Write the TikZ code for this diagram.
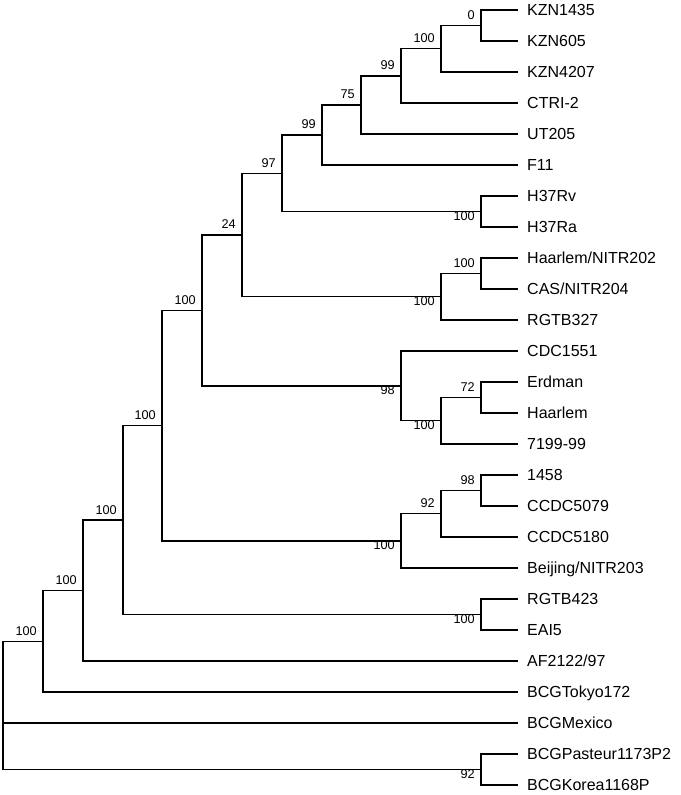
\documentclass[tikz,border=0pt]{standalone}
\usepackage{fontspec}
\setmainfont{Liberation Sans}
\usepackage{tikz}

\begin{document}
\begin{tikzpicture}[
      x=1pt, y=-1pt,
      branch/.style={line width=1.3pt, line cap=rect},
      leaf/.style={anchor=west, inner xsep=10pt, inner ysep=0pt, text height=11.5pt, text depth=0pt, font=\fontsize{16}{19}\selectfont},
      bootup/.style={anchor=east, inner sep=0pt, xshift=-6pt, yshift=10.5pt, text height=9pt, text depth=0pt, font=\fontsize{12.7}{15}\selectfont},
      bootdown/.style={bootup, yshift=-15pt}
    ]
    \useasboundingbox (0,0) rectangle (680,795);
    % Draw the taxa.
    \node[leaf] (t1) at (517,10) {KZN1435};
    \node[leaf] (t2) at (517,41) {KZN605};
    \node[leaf] (t3) at (517,72) {KZN4207};
    \node[leaf] (t4) at (517,103) {CTRI-2};
    \node[leaf] (t5) at (517,134) {UT205};
    \node[leaf] (t6) at (517,165) {F11};
    \node[leaf] (t7) at (517,196) {H37Rv};
    \node[leaf] (t8) at (517,227) {H37Ra};
    \node[leaf] (t9) at (517,258) {Haarlem/NITR202};
    \node[leaf] (t10) at (517,289) {CAS/NITR204};
    \node[leaf] (t11) at (517,320) {RGTB327};
    \node[leaf] (t12) at (517,351) {CDC1551};
    \node[leaf] (t13) at (517,382) {Erdman};
    \node[leaf] (t14) at (517,413) {Haarlem};
    \node[leaf] (t15) at (517,444) {7199-99};
    \node[leaf] (t16) at (517,475) {1458};
    \node[leaf] (t17) at (517,506) {CCDC5079};
    \node[leaf] (t18) at (517,537) {CCDC5180};
    \node[leaf] (t19) at (517,568) {Beijing/NITR203};
    \node[leaf] (t20) at (517,599) {RGTB423};
    \node[leaf] (t21) at (517,630) {EAI5};
    \node[leaf] (t22) at (517,661) {AF2122/97};
    \node[leaf] (t23) at (517,692) {BCGTokyo172};
    \node[leaf] (t24) at (517,723) {BCGMexico};
    \node[leaf] (t25) at (517,754) {BCGPasteur1173P2};
    \node[leaf] (t26) at (517,785) {BCGKorea1168P};
    % Draw the inner nodes.
    \coordinate (kzn1) at (481,25.5);
    \coordinate (kzn2) at (441,48.75);
    \coordinate (kzn3) at (401,75.88);
    \coordinate (kzn4) at (361,104.94);
    \coordinate (kzn5) at (322,134.97);
    \coordinate (h37) at (481,211.5);
    \coordinate (anc97) at (282,173.23);
    \coordinate (har1) at (481,273.5);
    \coordinate (har2) at (441,296.75);
    \coordinate (anc24) at (242,234.99);
    \coordinate (erd1) at (481,397.5);
    \coordinate (erd2) at (441,420.75);
    \coordinate (cdc) at (401,385.88);
    \coordinate (ancA) at (202,310.43);
    \coordinate (ccd1) at (481,490.5);
    \coordinate (ccd2) at (441,513.75);
    \coordinate (bei) at (401,540.88);
    \coordinate (ancB) at (162,425.65);
    \coordinate (eai) at (481,614.5);
    \coordinate (ancC) at (123,520.08);
    \coordinate (ancD) at (83,590.54);
    \coordinate (ancE) at (43,641.27);
    \coordinate (bcg) at (481,769.5);
    \coordinate (root) at (3,705.4);
    % Draw the branches.
    \draw[branch] (kzn1) |- (t1.west); \draw[branch] (kzn1) |- (t2.west);
    \draw[branch] (kzn2) |- (kzn1); \draw[branch] (kzn2) |- (t3.west);
    \draw[branch] (kzn3) |- (kzn2); \draw[branch] (kzn3) |- (t4.west);
    \draw[branch] (kzn4) |- (kzn3); \draw[branch] (kzn4) |- (t5.west);
    \draw[branch] (kzn5) |- (kzn4); \draw[branch] (kzn5) |- (t6.west);
    \draw[branch] (h37) |- (t7.west); \draw[branch] (h37) |- (t8.west);
    \draw[branch] (anc97) |- (kzn5); \draw[branch] (anc97) |- (h37);
    \draw[branch] (har1) |- (t9.west); \draw[branch] (har1) |- (t10.west);
    \draw[branch] (har2) |- (har1); \draw[branch] (har2) |- (t11.west);
    \draw[branch] (anc24) |- (anc97); \draw[branch] (anc24) |- (har2);
    \draw[branch] (erd1) |- (t13.west); \draw[branch] (erd1) |- (t14.west);
    \draw[branch] (erd2) |- (erd1); \draw[branch] (erd2) |- (t15.west);
    \draw[branch] (cdc) |- (t12.west); \draw[branch] (cdc) |- (erd2);
    \draw[branch] (ancA) |- (anc24); \draw[branch] (ancA) |- (cdc);
    \draw[branch] (ccd1) |- (t16.west); \draw[branch] (ccd1) |- (t17.west);
    \draw[branch] (ccd2) |- (ccd1); \draw[branch] (ccd2) |- (t18.west);
    \draw[branch] (bei) |- (ccd2); \draw[branch] (bei) |- (t19.west);
    \draw[branch] (ancB) |- (ancA); \draw[branch] (ancB) |- (bei);
    \draw[branch] (eai) |- (t20.west); \draw[branch] (eai) |- (t21.west);
    \draw[branch] (ancC) |- (ancB); \draw[branch] (ancC) |- (eai);
    \draw[branch] (ancD) |- (ancC); \draw[branch] (ancD) |- (t22.west);
    \draw[branch] (ancE) |- (ancD); \draw[branch] (ancE) |- (t23.west);
    \draw[branch] (bcg) |- (t25.west); \draw[branch] (bcg) |- (t26.west);
    \draw[branch] (root) |- (ancE); \draw[branch] (root) |- (t24.west);
    \draw[branch] (root) |- (bcg);
    % Draw the bootstrap values.
    \node[bootup] (b1) at (kzn1) {0};
    \node[bootup] (b2) at (kzn2) {100};
    \node[bootup] (b3) at (kzn3) {99};
    \node[bootup] (b4) at (kzn4) {75};
    \node[bootup] (b5) at (kzn5) {99};
    \node[bootdown] (b6) at (h37) {100};
    \node[bootup] (b7) at (anc97) {97};
    \node[bootup] (b8) at (har1) {100};
    \node[bootdown] (b9) at (har2) {100};
    \node[bootup] (b10) at (anc24) {24};
    \node[bootup] (b11) at (erd1) {72};
    \node[bootdown] (b12) at (erd2) {100};
    \node[bootdown] (b13) at (cdc) {98};
    \node[bootup] (b14) at (ancA) {100};
    \node[bootup] (b15) at (ccd1) {98};
    \node[bootup] (b16) at (ccd2) {92};
    \node[bootdown] (b17) at (bei) {100};
    \node[bootup] (b18) at (ancB) {100};
    \node[bootdown] (b19) at (eai) {100};
    \node[bootup] (b20) at (ancC) {100};
    \node[bootup] (b21) at (ancD) {100};
    \node[bootup] (b22) at (ancE) {100};
    \node[bootdown] (b23) at (bcg) {92};
    \end{tikzpicture}
\end{document}
